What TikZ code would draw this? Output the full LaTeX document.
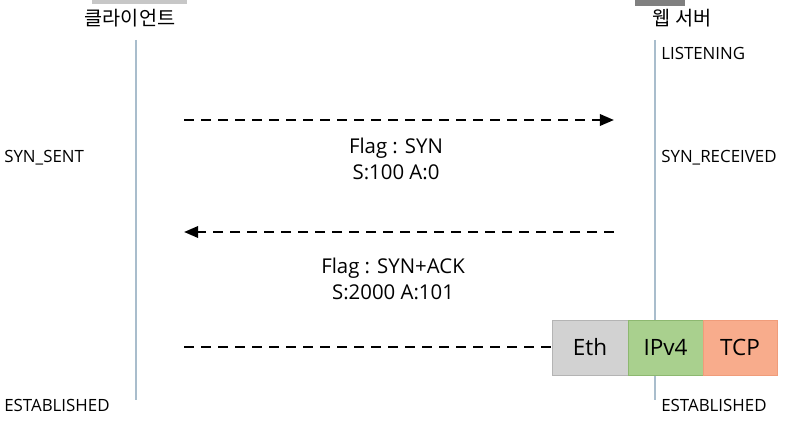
\documentclass[tikz,border=0pt]{standalone}
\usepackage{fontspec}
\setmainfont{Open Sans}
\newfontfamily\kofont{Noto Sans CJK KR}
\usetikzlibrary{arrows.meta}
\definecolor{lifeblue}{HTML}{A9BDCC}
\definecolor{ethgray}{HTML}{D2D2D2}
\definecolor{ethedge}{HTML}{B4B4B4}
\definecolor{ipgreen}{HTML}{A9D08E}
\definecolor{ipedge}{HTML}{8DB870}
\definecolor{tcporange}{HTML}{F8AC8C}
\definecolor{tcpedge}{HTML}{F09C7A}
\newlength{\px}
\setlength{\px}{0.025cm}

\tikzset{
  msg/.style={line width=1.8pt, dash pattern=on 10\px off 7\px},
  state/.style={anchor=west, inner sep=0pt, font=\fontsize{12}{14}\selectfont},
  flag/.style={align=center, inner sep=0pt, font=\fontsize{14.5}{19}\selectfont},
  hdr/.style={black, font=\fontsize{16}{18}\selectfont},
  who/.style={font=\kofont\fontsize{14}{16}\selectfont}
}

\begin{document}
\begin{tikzpicture}[x=0.025cm, y=-0.025cm]
        \useasboundingbox (0,0) rectangle (786,420);
        % icons cut off at the top
        \fill[black!22] (92,0) rectangle (187,4);
        \fill[black!50] (635,0) rectangle (685,6);
        \node[who] (client) at (130,18) {클라이언트};
        \node[who] (server) at (682,18) {웹 서버};
        % lifelines
        \draw[lifeblue, line width=1pt] (136,40) -- (136,400);
        \draw[lifeblue, line width=1pt] (655,40) -- (655,400);
        % states
        \node[state] (listen) at (661,53) {LISTENING};
        \node[state] (synsent) at (4,158) {SYN\_SENT};
        \node[state] (synrcvd) at (661,158) {SYN\_RECEIVED};
        \node[state] (estc) at (4,405) {ESTABLISHED};
        \node[state] (ests) at (661,405) {ESTABLISHED};
        % header boxes
        \draw[ethedge, fill=ethgray] (552,320) rectangle (628,375) node[midway, hdr] (eth) {Eth};
        \draw[ipedge, fill=ipgreen] (628,320) rectangle (703,375) node[midway, hdr] (ip) {IPv4};
        \draw[tcpedge, fill=tcporange] (703,320) rectangle (777,375) node[midway, hdr] (tcp) {TCP};
        % segments
        \coordinate (syn1) at (184,120);
        \coordinate (syn2) at (614,120);
        \coordinate (ack1) at (614,232);
        \coordinate (ack2) at (184,232);
        \coordinate (fin1) at (184,347);
        \coordinate (fin2) at (552,347);
        \draw[msg, -{Triangle[length=10pt, width=8pt]}] (syn1) -- (syn2);
        \draw[msg, -{Triangle[length=10pt, width=8pt]}] (ack1) -- (ack2);
        \draw[msg] (fin1) -- (fin2);
        \node[flag] (synlbl) at (396,159) {Flag : SYN\\S:100 A:0};
        \node[flag] (acklbl) at (393,279) {Flag : SYN+ACK\\S:2000 A:101};
    \end{tikzpicture}
\end{document}
